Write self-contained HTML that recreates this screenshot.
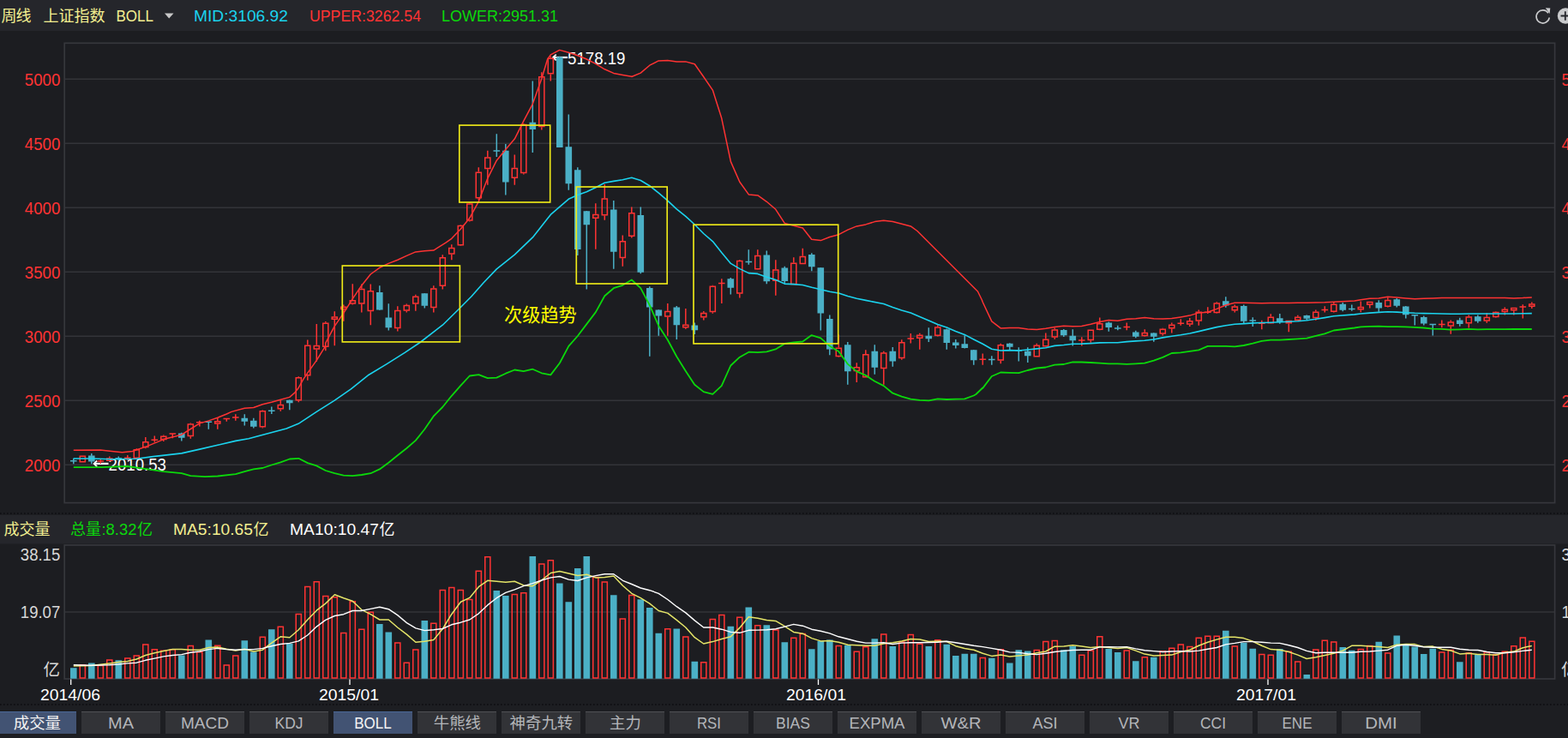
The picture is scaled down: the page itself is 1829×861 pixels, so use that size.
<!DOCTYPE html>
<html lang="zh"><head><meta charset="utf-8"><title>上证指数 周线 BOLL</title>
<style>
html,body{margin:0;padding:0;background:#1c1d21;}
body{width:1829px;height:861px;overflow:hidden;font-family:"Liberation Sans","Noto Sans CJK SC",sans-serif;}
svg{display:block;font-family:"Liberation Sans","Noto Sans CJK SC",sans-serif;}
</style></head><body>
<svg width="1829" height="861" viewBox="0 0 1829 861">
<rect x="0" y="0" width="1829" height="861" fill="#1c1d21"/>
<rect x="0" y="0" width="1829" height="36" fill="#25262b"/>
<rect x="0" y="601" width="1829" height="33.5" fill="#25262b"/>
<rect x="0" y="823" width="1829" height="38" fill="#1d1e22"/>
<line x1="0" y1="599" x2="1829" y2="599" stroke="#0d0d10" stroke-width="1.6" stroke-dasharray="1.6 2.4"/>
<line x1="0" y1="822" x2="1829" y2="822" stroke="#0d0d10" stroke-width="1.6" stroke-dasharray="1.6 2.4"/>
<line x1="75.2" y1="92.3" x2="1813.6" y2="92.3" stroke="#333439" stroke-width="1.5"/>
<line x1="75.2" y1="167.3" x2="1813.6" y2="167.3" stroke="#333439" stroke-width="1.5"/>
<line x1="75.2" y1="242.3" x2="1813.6" y2="242.3" stroke="#333439" stroke-width="1.5"/>
<line x1="75.2" y1="317.3" x2="1813.6" y2="317.3" stroke="#333439" stroke-width="1.5"/>
<line x1="75.2" y1="392.3" x2="1813.6" y2="392.3" stroke="#333439" stroke-width="1.5"/>
<line x1="75.2" y1="467.3" x2="1813.6" y2="467.3" stroke="#333439" stroke-width="1.5"/>
<line x1="75.2" y1="542.3" x2="1813.6" y2="542.3" stroke="#333439" stroke-width="1.5"/>
<rect x="75.2" y="50.3" width="1738.3999999999999" height="536.3000000000001" fill="none" stroke="#36373c" stroke-width="1.7"/>
<line x1="75.2" y1="714" x2="1813.6" y2="714" stroke="#333439" stroke-width="1.4"/>
<rect x="75.2" y="636" width="1738.3999999999999" height="156" fill="none" stroke="#36373c" stroke-width="1.7"/>
<text x="588.0" y="375.0" font-size="21.2" fill="#ffff00" font-family="'Liberation Sans','Noto Sans CJK SC',sans-serif" textLength="84.8">次级趋势</text>
<path d="M662.0 67H645.5" stroke="#fff" stroke-width="2.2" fill="none"/><path d="M648.7 63.6L645.1 67L648.7 70.4" stroke="#fff" stroke-width="1.8" fill="none"/>
<text x="662.0" y="75.0" font-size="19.5" fill="#ffffff" textLength="67.5" lengthAdjust="spacingAndGlyphs">5178.19</text>
<path d="M126.5 540.9H110.0" stroke="#fff" stroke-width="2.2" fill="none"/><path d="M113.2 537.5L109.6 540.9L113.2 544.3" stroke="#fff" stroke-width="1.8" fill="none"/>
<text x="126.5" y="548.8" font-size="19.5" fill="#ffffff" textLength="67.5" lengthAdjust="spacingAndGlyphs">2010.53</text>
<path d="M103.00 531.40H110.60V538.62H103.00ZM208.00 505.61H215.60V510.81H208.00ZM281.50 487.63H289.10V491.81H281.50ZM292.00 490.84H299.60V497.81H292.00ZM334.00 466.72H341.60V470.34H334.00ZM439.00 340.89H446.60V361.38H439.00ZM449.50 370.58H457.10V382.29H449.50ZM491.50 342.28H499.10V356.64H491.50ZM575.50 175.31H583.10V176.70H575.50ZM586.00 175.73H593.60V212.54H586.00ZM617.50 142.83H625.10V150.91H617.50ZM649.00 66.45H656.60V171.99H649.00ZM659.50 171.13H667.10V214.35H659.50ZM670.00 198.31H677.60V291.03H670.00ZM680.50 246.25H688.10V262.28H680.50ZM712.00 244.58H719.60V293.65H712.00ZM743.50 250.89H751.10V317.81H743.50ZM754.00 335.97H761.60V358.56H754.00ZM764.50 361.62H772.10V368.59H764.50ZM785.50 358.56H793.10V379.19H785.50ZM806.50 379.47H814.10V385.32H806.50ZM848.50 325.29H856.10V335.74H848.50ZM890.50 297.40H898.10V328.35H890.50ZM911.50 312.46H919.10V328.07H911.50ZM943.00 297.12H950.60V311.34H943.00ZM953.50 312.36H961.10V365.61H953.50ZM964.00 372.03H971.60V407.44H964.00ZM985.00 402.28H992.60V433.37H985.00ZM1016.50 409.67H1024.10V428.77H1016.50ZM1037.50 409.67H1045.10V421.38H1037.50ZM1079.50 391.83H1087.10V395.31H1079.50ZM1100.50 384.16H1108.10V399.91H1100.50ZM1111.00 399.49H1118.60V402.98H1111.00ZM1121.50 401.31H1129.10V406.05H1121.50ZM1132.00 408.31H1139.60V420.17H1132.00ZM1174.00 400.65H1181.60V404.83H1174.00ZM1195.00 409.71H1202.60V415.29H1195.00ZM1237.00 384.89H1244.60V391.31H1237.00ZM1247.50 391.86H1255.10V397.16H1247.50ZM1289.50 376.53H1297.10V382.10H1289.50ZM1321.00 387.40H1328.60V392.70H1321.00ZM1342.00 388.59H1349.60V392.78H1342.00ZM1426.00 351.37H1433.60V356.53H1426.00ZM1447.00 356.95H1454.60V374.65H1447.00ZM1489.00 371.31H1496.60V376.05H1489.00ZM1520.50 368.10H1528.10V371.86H1520.50ZM1562.50 354.83H1570.10V361.71H1562.50ZM1604.50 352.94H1612.10V359.49H1604.50ZM1625.50 349.32H1633.10V356.70H1625.50ZM1636.00 357.40H1643.60V367.16H1636.00ZM1657.00 369.95H1664.60V377.62H1657.00ZM1699.00 373.43H1706.60V378.04H1699.00ZM1720.00 369.25H1727.60V374.83H1720.00Z" fill="#4bb0c6"/>
<path d="M82.00 537.83H89.60M85.80 534.69V541.25M106.80 529.11V541.25M134.50 534.69H142.10M138.30 532.39V537.31M211.80 504.77V514.43M239.50 492.32H247.10M243.30 492.08V500.78M285.30 483.17V496.41M295.80 487.63V499.62M313.00 479.27H320.60M316.80 474.53V482.89M337.80 466.44V478.29M442.80 333.22V361.80M453.30 354.13V385.50M495.30 342.28V359.43M579.30 156.21V182.98M589.80 167.92V227.59M621.30 94.45V178.10M652.80 65.75V171.99M663.30 133.49V221.74M673.80 195.25V298.00M684.30 245.97V337.57M715.80 233.98V313.87M747.30 241.55V319.20M757.80 334.16V415.72M768.30 361.34V391.74M789.30 356.88V395.92M810.30 376.40V389.92M852.30 323.89V343.41M869.50 305.49H877.10M873.30 291.13V308.83M894.30 292.52V331.14M915.30 310.65V330.86M946.80 295.31V316.22M957.30 312.36V385.55M967.80 367.43V414.13M988.80 399.07V448.71M1020.30 402.28V436.72M1041.30 405.07V427.79M1083.30 382.34V399.07M1104.30 383.46V407.86M1114.80 396.01V406.46M1125.30 391.13V406.46M1135.80 408.04V425.74M1153.00 419.47H1160.60M1156.80 415.29V425.74M1177.80 400.23V408.31M1184.50 409.01H1192.10M1188.30 405.25V421.56M1198.80 405.25V422.95M1240.80 383.92V392.98M1251.30 384.33V403.43M1293.30 375.55V386.70M1300.00 382.94H1307.60M1303.80 379.73V385.31M1324.80 385.73V394.37M1345.80 388.31V398.77M1429.80 346.21V358.76M1450.80 355.55V377.16M1457.50 374.09H1465.10M1461.30 370.19V381.06M1492.80 366.01V377.86M1524.30 367.40V373.68M1566.30 352.97V363.20M1573.00 360.41H1580.60M1576.80 355.39V362.83M1608.30 350.15V363.68M1629.30 347.92V358.52M1639.80 357.12V371.62M1646.50 367.86H1654.10M1650.30 367.44V379.43M1660.80 368.56V379.43M1667.50 378.59H1675.10M1671.30 378.31V391.56M1702.80 370.65V380.82M1723.80 367.44V376.64" fill="none" stroke="#4bb0c6" stroke-width="1.5"/>
<path d="M93.25 532.15H99.35V538.86H93.25ZM124.75 535.01H130.85V537.31H124.75ZM156.25 524.85H162.35V534.22H156.25ZM166.75 515.79H172.85V521.54H166.75ZM187.75 509.14H193.85V512.47H187.75ZM219.25 495.01H225.35V508.49H219.25ZM250.75 491.72H256.85V494.02H250.75ZM303.25 479.74H309.35V497.75H303.25ZM324.25 472.49H330.35V476.84H324.25ZM345.25 440.70H351.35V466.80H345.25ZM355.75 403.34H361.85V437.81H355.75ZM366.25 403.40H372.35V407.06H366.25ZM376.75 377.19H382.85V404.27H376.75ZM387.25 370.06H393.35V372.36H387.25ZM397.75 358.21H403.85V360.51H397.75ZM408.25 350.70H414.35V354.08H408.25ZM418.75 337.45H424.85V354.08H418.75ZM429.25 339.82H435.35V362.44H429.25ZM460.75 362.55H466.85V382.38H460.75ZM471.25 356.56H477.35V362.03H471.25ZM481.75 346.24H487.85V354.08H481.75ZM502.75 337.04H508.85V358.54H502.75ZM513.25 300.79H519.35V333.17H513.25ZM523.75 289.52H529.85V295.97H523.75ZM534.25 263.45H540.35V285.65H534.25ZM544.75 237.94H550.85V256.93H544.75ZM555.25 201.16H561.35V230.75H555.25ZM565.75 184.01H571.85V196.45H565.75ZM597.25 196.56H603.35V207.32H597.25ZM607.75 145.39H613.85V201.47H607.75ZM628.75 89.79H634.85V147.54H628.75ZM639.25 68.18H645.35V85.78H639.25ZM691.75 250.48H697.85V254.14H691.75ZM702.25 231.94H708.35V250.80H702.25ZM723.25 281.85H729.35V300.57H723.25ZM733.75 248.85H739.85V275.23H733.75ZM775.75 363.49H781.85V368.96H775.75ZM796.75 379.36H802.85V381.66H796.75ZM817.75 365.58H823.85V369.66H817.75ZM828.25 334.21H834.35V363.38H828.25ZM859.75 304.43H865.85V341.96H859.75ZM880.75 298.43H886.85V313.66H880.75ZM901.75 314.88H907.85V327.32H901.75ZM922.75 307.21H928.85V331.51H922.75ZM933.25 299.55H939.35V307.53H933.25ZM975.25 406.24H981.35V415.47H975.25ZM996.25 428.82H1002.35V432.62H996.25ZM1006.75 413.77H1012.85V439.87H1006.75ZM1027.75 412.09H1033.85V429.42H1027.75ZM1048.75 399.82H1054.85V417.56H1048.75ZM1069.75 391.18H1075.85V394.14H1069.75ZM1090.75 382.12H1096.85V391.35H1090.75ZM1164.25 402.79H1170.35V420.11H1164.25ZM1206.25 403.21H1212.35V415.65H1206.25ZM1216.75 396.24H1222.85V403.66H1216.75ZM1227.25 385.08H1233.35V392.93H1227.25ZM1269.25 385.36H1275.35V396.41H1269.25ZM1279.75 377.70H1285.85V384.14H1279.75ZM1332.25 388.43H1338.35V391.53H1332.25ZM1353.25 384.18H1359.35V388.96H1353.25ZM1363.75 379.31H1369.85V382.68H1363.75ZM1384.75 374.84H1390.85V378.08H1384.75ZM1395.25 364.25H1401.35V373.90H1395.25ZM1416.25 353.93H1422.35V364.56H1416.25ZM1437.25 358.11H1443.35V361.77H1437.25ZM1479.25 370.24H1485.35V376.69H1479.25ZM1500.25 374.48H1506.35V376.78H1500.25ZM1510.75 370.24H1516.85V373.34H1510.75ZM1531.75 364.25H1537.85V370.56H1531.75ZM1552.75 355.33H1558.85V363.17H1552.75ZM1584.25 358.55H1590.35V360.85H1584.25ZM1594.75 352.58H1600.85V355.26H1594.75ZM1615.75 350.48H1621.85V357.35H1615.75ZM1689.25 376.00H1695.35V380.07H1689.25ZM1710.25 370.00H1716.35V376.87H1710.25ZM1731.25 370.42H1737.35V374.08H1731.25ZM1741.75 364.43H1747.85V369.48H1741.75ZM1752.25 361.22H1758.35V363.62H1752.25ZM1762.75 359.53H1768.85V361.83H1762.75ZM1783.75 355.07H1789.85V357.37H1783.75Z" fill="none" stroke="#ff3333" stroke-width="1.5"/>
<path d="M113.50 537.97H121.10M117.30 536.00V540.92M127.80 532.39V534.26M145.00 534.36H152.60M148.80 531.08V536.98M159.30 523.25V524.10M159.30 534.97V535.33M169.80 509.96V515.04M169.80 522.29V523.25M176.50 513.22H184.10M180.30 508.39V515.64M190.80 507.55V508.39M190.80 513.22V515.04M197.50 505.98H205.10M201.30 505.61V511.17M222.30 493.53V494.26M222.30 509.24V511.65M229.00 492.69H236.60M232.80 490.63V497.52M253.80 487.85V490.97M253.80 494.77V500.78M260.50 488.46H268.10M264.30 488.22V491.84M271.00 487.07H278.60M274.80 483.17V490.84M306.30 478.43V478.99M306.30 498.50V499.62M327.30 466.44V471.74M327.30 477.59V479.68M348.30 439.25V439.95M348.30 467.55V469.23M358.80 396.45V402.59M358.80 438.56V443.85M369.30 378.11V402.65M369.30 407.81V421.75M379.80 375.04V376.44M379.80 405.02V409.20M390.30 363.19V369.31M390.30 373.11V403.21M400.80 355.53V357.46M400.80 361.26V374.77M411.30 331.13V349.95M411.30 354.83V355.53M421.80 331.55V336.70M421.80 354.83V364.59M432.30 331.55V339.07M432.30 363.19V379.23M463.80 357.20V361.80M463.80 383.13V386.48M474.30 354.41V355.81M474.30 362.78V364.59M484.80 343.68V345.49M484.80 354.83V362.78M505.80 333.22V336.29M505.80 359.29V364.59M516.30 297.25V300.04M516.30 333.92V337.40M526.80 285.29V288.77M526.80 296.72V303.13M537.30 262.28V262.70M537.30 286.40V286.96M547.80 236.21V237.19M547.80 257.68V258.52M558.30 195.25V200.41M558.30 231.50V233.17M568.80 175.73V183.26M568.80 197.20V215.74M600.30 180.47V195.81M600.30 208.07V215.74M610.80 143.94V144.64M610.80 202.22V203.61M631.80 84.16V89.04M631.80 148.29V151.50M642.30 65.61V67.43M642.30 86.53V94.61M694.80 237.19V249.73M694.80 254.89V290.86M705.30 214.88V231.19M705.30 251.55V256.70M726.30 274.41V281.10M726.30 301.32V310.66M736.80 241.55V248.10M736.80 275.98V277.38M778.80 354.09V362.74M778.80 369.71V391.74M799.80 359.95V378.61M799.80 382.41V383.93M820.80 363.02V364.83M820.80 370.41V373.61M831.30 332.76V333.46M831.30 364.13V365.81M838.00 330.39H845.60M841.80 325.37V354.09M862.80 302.98V303.68M862.80 342.71V347.59M883.80 291.13V297.68M883.80 314.41V314.83M904.80 303.26V314.13M904.80 328.07V344.80M925.80 300.19V306.46M936.30 289.73V298.80M978.30 390.43V405.49M978.30 416.22V416.64M999.30 423.19V428.07M999.30 433.37V445.92M1009.80 408.28V413.02M1030.80 409.67V411.34M1030.80 430.17V448.71M1051.80 396.29V399.07M1051.80 418.31V419.71M1058.50 394.89H1066.10M1062.30 389.04V400.47M1072.80 388.76V390.43M1072.80 394.89V407.86M1093.80 379.28V381.37M1093.80 392.10V392.52M1142.50 419.19H1150.10M1146.30 412.50V425.74M1167.30 400.65V402.04M1167.30 420.86V424.35M1209.30 400.65V402.46M1219.80 388.52V395.49M1219.80 404.41V404.83M1230.30 382.52V384.33M1230.30 393.68V395.77M1258.00 396.88H1265.60M1261.80 393.26V403.43M1272.30 397.16V399.67M1282.80 370.39V376.95M1282.80 384.89V385.31M1310.50 381.55H1318.10M1314.30 376.53V385.31M1335.30 384.33V387.68M1335.30 392.28V392.70M1356.30 382.74V383.43M1356.30 389.71V391.38M1366.80 376.46V378.56M1366.80 383.43V388.59M1373.50 377.16H1381.10M1377.30 372.28V379.67M1387.80 370.89V374.09M1387.80 378.83V381.06M1398.30 361.55V363.50M1398.30 374.65V379.67M1405.00 364.33H1412.60M1408.80 358.34V366.01M1419.30 352.34V353.18M1419.30 365.31V365.73M1440.30 355.55V357.36M1440.30 362.52V364.61M1468.00 377.16H1475.60M1471.80 373.68V384.13M1482.30 366.29V369.49M1482.30 377.44V377.86M1503.30 377.53V387.20M1513.80 367.68V369.49M1534.80 361.55V363.50M1534.80 371.31V373.68M1541.50 361.55H1549.10M1545.30 357.36V364.61M1555.80 352.76V354.58M1555.80 363.92V364.61M1587.30 351.55V357.80M1587.30 361.60V364.37M1597.80 356.01V359.49M1618.80 347.36V349.73M1618.80 358.10V358.52M1678.00 378.59H1685.60M1681.80 373.43V382.22M1692.30 373.43V375.25M1692.30 380.82V389.75M1713.30 367.44V369.25M1713.30 377.62V382.50M1734.30 365.07V369.67M1734.30 374.83V376.64M1744.80 363.26V363.68M1744.80 370.23V370.65M1755.30 358.52V360.47M1755.30 364.37V367.44M1765.80 362.58V367.44M1772.50 358.10H1780.10M1776.30 355.31V371.62M1786.80 352.52V354.32M1786.80 358.12V359.91" fill="none" stroke="#ff3333" stroke-width="1.5"/>
<path d="M85.8 525.2L117.1 524.9L130.4 526.5L142.5 527.7L154.6 526.5L159.4 524.7L170.3 521.1L190.8 512.6L211.8 507.2L222.3 500.5L232.9 493.9L243.4 490.9L253.9 487.2L264.4 483.0L270.0 480.4L285.3 476.2L295.8 475.5L306.2 471.7L316.7 469.2L327.3 466.2L337.8 463.4L343.9 458.1L348.2 452.5L353.7 442.7L358.8 435.1L369.3 420.4L379.7 403.7L379.8 400.1L390.2 380.6L400.7 365.3L411.3 348.6L421.7 333.2L432.2 320.0L442.8 312.3L453.2 307.4L463.8 303.2L474.3 298.4L484.8 293.9L495.2 292.8L505.8 292.1L520.0 283.2L526.8 278.3L537.3 267.2L547.7 254.6L558.3 235.1L568.8 208.1L579.3 187.2L589.7 174.6L600.3 162.1L610.8 141.2L621.4 121.1L631.8 91.8L638.5 69.5L642.3 63.9L652.7 58.4L663.2 61.2L673.8 64.8L684.2 69.0L694.8 74.3L705.3 80.8L715.7 85.4L726.3 87.4L736.7 89.3L736.8 89.5L747.3 85.1L757.8 76.2L768.2 70.9L778.8 70.6L789.3 72.0L799.7 71.9L810.3 74.8L820.8 89.7L831.3 105.1L841.7 137.8L852.4 188.6L862.8 212.3L873.3 226.9L883.9 227.9L894.3 235.3L904.8 244.3L915.2 260.4L925.8 263.2L936.3 266.0L946.7 279.2L957.3 280.6L967.8 276.5L978.3 273.7L988.9 268.1L999.3 263.9L1009.8 261.9L1020.4 258.6L1030.8 257.2L1041.3 258.4L1051.9 261.2L1062.3 263.9L1070.0 269.5L1140.5 340.0L1145.4 350.0L1146.3 352.5L1156.8 374.9L1167.2 382.9L1177.8 382.5L1188.3 382.5L1198.7 383.9L1209.3 384.6L1219.8 383.2L1230.2 381.5L1240.8 380.2L1251.3 380.7L1261.7 380.4L1272.2 378.3L1282.8 375.6L1293.3 373.5L1303.7 374.2L1314.3 372.3L1324.8 371.8L1335.2 370.4L1345.9 371.7L1356.3 371.9L1366.8 371.6L1377.2 369.9L1387.8 368.1L1398.3 364.9L1408.7 364.3L1419.3 360.4L1429.8 356.0L1440.2 353.2L1450.8 353.2L1461.3 353.5L1471.7 353.7L1482.2 353.5L1492.8 353.5L1503.3 353.5L1513.7 353.2L1524.3 353.2L1534.8 353.0L1545.2 352.8L1555.8 352.3L1580.0 351.1L1587.2 349.7L1597.8 348.3L1608.3 347.9L1618.8 346.2L1629.4 346.9L1639.8 347.9L1650.3 348.8L1660.9 348.3L1671.3 347.9L1681.8 347.6L1692.2 347.6L1702.8 347.6L1713.3 347.6L1723.7 347.6L1734.3 347.6L1744.8 347.6L1755.2 347.6L1765.8 347.9L1776.3 347.6L1786.8 346.9" fill="none" stroke="#ff3333" stroke-width="1.5" stroke-linejoin="round"/>
<path d="M85.8 535.0L106.8 535.0L130.4 535.8L159.4 535.3L178.7 532.6L211.8 528.9L232.9 524.1L253.9 519.3L274.9 514.4L290.0 511.7L334.1 500.0L348.1 494.3L369.3 480.4L390.3 467.1L409.4 453.9L430.3 437.2L451.2 424.6L472.2 411.4L490.0 399.5L516.3 379.2L536.1 359.7L550.0 345.8L563.9 330.0L579.3 313.9L600.3 297.1L621.4 276.9L642.3 250.4L652.7 241.4L663.2 232.3L673.8 227.4L684.3 223.7L694.9 218.8L705.3 213.2L715.8 211.4L726.2 209.8L736.8 207.2L747.3 210.5L757.7 216.7L768.3 225.1L778.8 234.2L789.2 243.9L799.8 252.3L810.3 262.0L820.7 272.5L831.3 281.6L841.8 294.8L852.4 307.4L862.9 313.6L873.3 318.6L883.7 319.4L894.3 323.2L904.8 326.4L915.2 331.1L925.7 331.6L936.3 332.5L946.8 335.3L957.4 337.8L967.8 340.3L978.3 342.0L988.9 345.5L999.3 348.3L1009.8 350.4L1030.8 354.5L1041.3 358.4L1051.7 361.9L1062.3 365.1L1072.8 369.5L1083.4 374.0L1093.8 378.6L1104.3 382.1L1114.7 386.5L1125.2 390.4L1135.8 396.0L1146.3 401.3L1156.8 407.2L1167.2 409.0L1177.8 408.6L1188.3 409.0L1198.7 408.0L1209.3 406.9L1219.8 405.8L1230.2 403.4L1240.8 402.5L1251.3 401.3L1261.7 401.1L1272.2 400.6L1282.8 399.9L1293.3 399.7L1303.7 399.7L1314.3 398.6L1324.8 397.9L1335.2 397.2L1345.9 396.0L1356.3 393.9L1366.8 392.2L1377.2 390.8L1387.8 389.0L1398.3 386.6L1408.7 384.1L1419.3 381.6L1429.8 379.7L1440.2 378.3L1450.8 377.6L1461.3 376.9L1471.7 376.5L1482.2 376.2L1492.8 375.8L1503.3 375.3L1513.7 374.7L1524.3 373.7L1534.8 372.3L1545.2 370.6L1555.8 368.8L1580.0 366.9L1587.2 366.0L1597.8 365.1L1608.3 364.4L1618.8 363.7L1629.4 364.1L1639.8 364.7L1650.3 365.3L1660.9 365.6L1671.3 365.8L1681.8 366.0L1692.2 366.2L1702.8 366.2L1713.3 366.0L1723.7 366.0L1734.3 366.0L1744.8 366.0L1755.2 366.0L1765.8 366.0L1776.3 365.8L1786.8 365.6" fill="none" stroke="#1bd3ee" stroke-width="1.6" stroke-linejoin="round"/>
<path d="M85.8 545.2L118.3 545.2L148.5 544.0L170.3 547.1L190.8 550.1L211.8 552.2L222.3 555.1L239.1 556.1L253.9 555.5L274.9 553.1L285.3 550.1L290.0 548.9L295.8 547.4L306.3 546.0L316.8 542.5L327.3 539.3L337.9 535.5L348.3 534.8L358.8 540.1L369.2 543.4L379.8 549.0L390.3 552.2L400.7 554.6L411.3 555.2L421.8 554.0L432.4 552.2L442.8 547.4L453.3 539.7L463.8 531.3L474.3 523.0L484.8 513.9L495.3 500.8L505.8 485.5L516.2 475.0L526.8 461.8L537.3 449.9L547.8 438.5L558.4 437.1L568.8 441.2L579.3 440.6L589.9 435.7L600.3 431.5L610.8 433.2L621.4 430.7L631.8 435.3L642.3 437.4L652.9 423.5L663.3 403.9L673.8 392.0L684.3 378.1L694.9 364.1L705.3 345.3L715.8 336.2L726.2 332.8L736.8 326.5L747.3 336.2L757.7 355.8L768.3 380.2L778.8 396.5L789.3 416.0L799.7 432.7L810.2 448.8L820.8 457.1L831.3 459.9L841.7 450.2L852.3 426.5L862.8 416.7L873.4 410.7L883.8 411.1L894.3 410.4L904.7 407.4L915.2 401.0L925.8 399.3L936.3 398.5L946.7 391.1L957.2 394.3L967.8 403.7L978.2 409.9L988.7 424.6L999.3 433.4L1009.7 437.8L1020.2 444.8L1030.8 450.1L1041.3 458.7L1051.7 462.6L1062.3 465.7L1072.8 466.8L1083.4 467.4L1093.8 465.4L1104.3 466.0L1114.7 465.7L1125.2 465.4L1135.8 461.5L1138.4 460.0L1146.2 452.5L1146.3 452.9L1156.8 439.0L1167.2 434.5L1177.8 434.8L1188.3 435.1L1198.7 432.0L1209.3 429.5L1219.8 428.5L1230.2 425.7L1240.8 425.0L1251.3 422.3L1261.7 422.5L1272.2 423.0L1282.8 423.7L1293.3 424.3L1303.7 424.3L1314.3 424.8L1324.8 424.3L1335.2 423.7L1345.9 420.7L1356.3 416.9L1366.8 412.0L1377.2 411.3L1387.8 409.9L1398.3 408.3L1408.7 403.9L1419.3 403.9L1429.8 403.9L1440.2 404.3L1450.8 403.0L1461.3 400.6L1471.7 397.8L1482.2 396.7L1492.8 396.7L1503.3 396.0L1513.7 395.3L1524.3 394.6L1534.8 391.8L1545.2 389.3L1555.8 385.5L1580.0 382.5L1587.2 381.4L1597.8 380.8L1608.3 380.7L1618.8 381.1L1629.4 381.1L1639.8 381.4L1650.3 381.8L1660.9 382.5L1671.3 383.6L1681.8 383.9L1692.2 384.6L1702.8 384.3L1713.3 383.9L1723.7 384.3L1734.3 384.2L1744.8 384.2L1755.2 384.2L1765.8 384.0L1776.3 384.0L1786.8 384.0" fill="none" stroke="#0bd80b" stroke-width="1.8" stroke-linejoin="round"/>
<rect x="399.3" y="310.0" width="137.1" height="88.9" fill="none" stroke="#efea18" stroke-width="1.65"/>
<rect x="535.8" y="146.1" width="105.9" height="89.9" fill="none" stroke="#efea18" stroke-width="1.65"/>
<rect x="672.3" y="218.0" width="105.9" height="113.0" fill="none" stroke="#efea18" stroke-width="1.65"/>
<rect x="809.0" y="262.2" width="168.7" height="138.7" fill="none" stroke="#efea18" stroke-width="1.65"/>
<path d="M82.00 791.80V779.29H89.60V791.80ZM103.00 791.80V773.52H110.60V791.80ZM134.50 791.80V770.27H142.10V791.80ZM208.00 791.80V764.49H215.60V791.80ZM239.50 791.80V746.45H247.10V791.80ZM281.50 791.80V747.35H289.10V791.80ZM292.00 791.80V760.53H299.60V791.80ZM313.00 791.80V734.18H320.60V791.80ZM334.00 791.80V750.96H341.60V791.80ZM439.00 791.80V728.05H446.60V791.80ZM449.50 791.80V737.43H457.10V791.80ZM491.50 791.80V723.90H499.10V791.80ZM575.50 791.80V689.08H583.10V791.80ZM586.00 791.80V695.03H593.60V791.80ZM617.50 791.80V649.02H625.10V791.80ZM649.00 791.80V680.60H656.60V791.80ZM659.50 791.80V702.25H667.10V791.80ZM670.00 791.80V663.09H677.60V791.80ZM680.50 791.80V649.02H688.10V791.80ZM712.00 791.80V694.13H719.60V791.80ZM743.50 791.80V699.18H751.10V791.80ZM754.00 791.80V708.92H761.60V791.80ZM764.50 791.80V738.87H772.10V791.80ZM785.50 791.80V733.46H793.10V791.80ZM806.50 791.80V771.71H814.10V791.80ZM848.50 791.80V730.75H856.10V791.80ZM869.50 791.80V708.56H877.10V791.80ZM890.50 791.80V729.31H898.10V791.80ZM911.50 791.80V749.16H919.10V791.80ZM943.00 791.80V757.28H950.60V791.80ZM953.50 791.80V747.90H961.10V791.80ZM964.00 791.80V746.45H971.60V791.80ZM985.00 791.80V752.77H992.60V791.80ZM1016.50 791.80V745.19H1024.10V791.80ZM1037.50 791.80V754.03H1045.10V791.80ZM1079.50 791.80V754.03H1087.10V791.80ZM1100.50 791.80V751.86H1108.10V791.80ZM1111.00 791.80V765.04H1118.60V791.80ZM1121.50 791.80V762.69H1129.10V791.80ZM1132.00 791.80V762.69H1139.60V791.80ZM1153.00 791.80V767.74H1160.60V791.80ZM1174.00 791.80V773.52H1181.60V791.80ZM1184.50 791.80V758.18H1192.10V791.80ZM1195.00 791.80V759.62H1202.60V791.80ZM1237.00 791.80V758.18H1244.60V791.80ZM1247.50 791.80V754.03H1255.10V791.80ZM1289.50 791.80V756.92H1297.10V791.80ZM1300.00 791.80V760.89H1307.60V791.80ZM1321.00 791.80V771.17H1328.60V791.80ZM1342.00 791.80V766.84H1349.60V791.80ZM1426.00 791.80V735.63H1433.60V791.80ZM1447.00 791.80V749.70H1454.60V791.80ZM1457.50 791.80V756.74H1465.10V791.80ZM1489.00 791.80V756.92H1496.60V791.80ZM1520.50 791.80V787.05H1528.10V791.80ZM1562.50 791.80V755.11H1570.10V791.80ZM1573.00 791.80V758.72H1580.60V791.80ZM1604.50 791.80V748.80H1612.10V791.80ZM1625.50 791.80V741.40H1633.10V791.80ZM1636.00 791.80V751.86H1643.60V791.80ZM1646.50 791.80V754.62H1654.10V791.80ZM1657.00 791.80V763.11H1664.60V791.80ZM1667.50 791.80V756.82H1675.10V791.80ZM1699.00 791.80V772.27H1706.60V791.80ZM1720.00 791.80V764.00H1727.60V791.80Z" fill="#4bb0c6"/>
<path d="M93.25 791.10V775.71H99.35V791.10ZM114.25 791.10V776.43H120.35V791.10ZM124.75 791.10V770.12H130.85V791.10ZM145.75 791.10V767.95H151.85V791.10ZM156.25 791.10V764.88H162.35V791.10ZM166.75 791.10V752.07H172.85V791.10ZM177.25 791.10V757.67H183.35V791.10ZM187.75 791.10V759.29H193.85V791.10ZM198.25 791.10V757.67H204.35V791.10ZM219.25 791.10V753.52H225.35V791.10ZM229.75 791.10V760.73H235.85V791.10ZM250.75 791.10V753.16H256.85V791.10ZM261.25 791.10V776.07H267.35V791.10ZM271.75 791.10V764.88H277.85V791.10ZM303.25 791.10V743.23H309.35V791.10ZM324.25 791.10V731.32H330.35V791.10ZM345.25 791.10V716.53H351.35V791.10ZM355.75 791.10V684.41H361.85V791.10ZM366.25 791.10V678.64H372.35V791.10ZM376.75 791.10V695.42H382.85V791.10ZM387.25 791.10V696.68H393.35V791.10ZM397.75 791.10V738.54H403.85V791.10ZM408.25 791.10V701.73H414.35V791.10ZM418.75 791.10V734.21H424.85V791.10ZM429.25 791.10V714.36H435.35V791.10ZM460.75 791.10V749.91H466.85V791.10ZM471.25 791.10V773.36H477.35V791.10ZM481.75 791.10V758.03H487.85V791.10ZM502.75 791.10V727.36H508.85V791.10ZM513.25 791.10V688.56H519.35V791.10ZM523.75 791.10V685.50H529.85V791.10ZM534.25 791.10V688.56H540.35V791.10ZM544.75 791.10V699.39H550.85V791.10ZM555.25 791.10V666.37H561.35V791.10ZM565.75 791.10V649.77H571.85V791.10ZM597.25 791.10V693.43H603.35V791.10ZM607.75 791.10V691.63H613.85V791.10ZM628.75 791.10V657.89H634.85V791.10ZM639.25 791.10V653.74H645.35V791.10ZM691.75 791.10V673.59H697.85V791.10ZM702.25 791.10V679.00H708.35V791.10ZM723.25 791.10V721.94H729.35V791.10ZM733.75 791.10V694.52H739.85V791.10ZM775.75 791.10V733.67H781.85V791.10ZM796.75 791.10V743.05H802.85V791.10ZM817.75 791.10V772.82H823.85V791.10ZM828.25 791.10V722.48H834.35V791.10ZM838.75 791.10V717.43H844.85V791.10ZM859.75 791.10V720.14H865.85V791.10ZM880.75 791.10V729.70H886.85V791.10ZM901.75 791.10V734.93H907.85V791.10ZM922.75 791.10V744.13H928.85V791.10ZM933.25 791.10V739.44H939.35V791.10ZM975.25 791.10V753.52H981.35V791.10ZM996.25 791.10V760.19H1002.35V791.10ZM1006.75 791.10V754.78H1012.85V791.10ZM1027.75 791.10V739.98H1033.85V791.10ZM1048.75 791.10V749.01H1054.85V791.10ZM1059.25 791.10V740.53H1065.35V791.10ZM1069.75 791.10V751.17H1075.85V791.10ZM1090.75 791.10V746.66H1096.85V791.10ZM1143.25 791.10V767.41H1149.35V791.10ZM1164.25 791.10V757.67H1170.35V791.10ZM1206.25 791.10V758.57H1212.35V791.10ZM1216.75 791.10V748.47H1222.85V791.10ZM1227.25 791.10V747.56H1233.35V791.10ZM1258.75 791.10V764.34H1264.85V791.10ZM1269.25 791.10V758.93H1275.35V791.10ZM1279.75 791.10V742.69H1285.85V791.10ZM1311.25 791.10V758.93H1317.35V791.10ZM1332.25 791.10V766.69H1338.35V791.10ZM1353.25 791.10V759.83H1359.35V791.10ZM1363.75 791.10V756.22H1369.85V791.10ZM1374.25 791.10V752.07H1380.35V791.10ZM1384.75 791.10V754.42H1390.85V791.10ZM1395.25 791.10V744.13H1401.35V791.10ZM1405.75 791.10V742.33H1411.85V791.10ZM1416.25 791.10V742.33H1422.35V791.10ZM1437.25 791.10V754.06H1443.35V791.10ZM1468.75 791.10V763.44H1474.85V791.10ZM1479.25 791.10V764.34H1485.35V791.10ZM1500.25 791.10V760.19H1506.35V791.10ZM1510.75 791.10V772.10H1516.85V791.10ZM1531.75 791.10V758.03H1537.85V791.10ZM1542.25 791.10V747.20H1548.35V791.10ZM1552.75 791.10V749.01H1558.85V791.10ZM1584.25 791.10V757.49H1590.35V791.10ZM1594.75 791.10V753.52H1600.85V791.10ZM1615.75 791.10V762.00H1621.85V791.10ZM1678.75 791.10V760.88H1684.85V791.10ZM1689.25 791.10V758.46H1695.35V791.10ZM1710.25 791.10V761.99H1716.35V791.10ZM1731.25 791.10V760.88H1737.35V791.10ZM1741.75 791.10V763.64H1747.85V791.10ZM1752.25 791.10V760.33H1758.35V791.10ZM1762.75 791.10V753.71H1768.85V791.10ZM1773.25 791.10V744.11H1779.35V791.10ZM1783.75 791.10V748.20H1789.85V791.10Z" fill="none" stroke="#ff3333" stroke-width="1.5"/>
<path d="M85.8 777.1L106.8 776.6L127.7 773.9L138.3 772.6L148.8 771.4L159.3 769.0L169.7 764.5L180.4 761.8L190.8 759.4L201.3 757.6L211.8 757.6L222.2 758.2L232.9 758.2L243.3 755.5L253.8 754.9L264.3 757.3L274.7 759.1L285.4 757.3L295.8 760.0L306.3 758.2L316.8 750.1L327.2 742.8L337.9 743.7L348.3 734.7L358.8 723.0L369.3 712.2L379.7 704.1L390.4 693.8L400.8 697.7L411.2 701.3L421.7 711.3L432.3 716.7L442.8 723.0L453.3 723.0L463.7 732.0L474.4 740.1L484.9 749.2L495.3 748.3L505.8 746.5L516.2 733.8L526.7 716.7L537.4 702.2L547.8 697.4L558.3 684.7L568.8 677.3L579.2 678.3L589.9 679.3L600.3 678.3L610.8 682.9L621.3 683.7L631.7 677.0L642.4 668.5L652.8 666.5L663.3 668.9L673.8 671.6L684.4 670.3L694.9 673.9L705.3 673.4L715.8 672.1L726.4 683.3L736.8 692.3L747.3 697.7L757.8 704.1L768.2 712.5L778.9 715.4L789.3 723.4L799.8 732.0L810.3 743.7L820.7 751.0L831.4 748.6L841.8 745.5L852.3 742.8L862.8 732.4L873.2 719.7L883.9 721.2L894.3 723.5L904.8 724.4L915.3 730.6L925.7 737.4L936.4 739.2L946.8 744.6L957.3 747.9L967.8 747.4L978.2 749.2L988.9 752.2L999.4 752.8L1009.8 753.3L1020.3 753.3L1030.7 751.0L1041.3 749.7L1051.8 747.9L1062.2 745.5L1072.9 746.1L1083.4 748.6L1093.8 747.9L1104.3 748.6L1114.7 753.7L1125.2 756.4L1135.9 758.2L1146.3 762.3L1156.8 765.4L1167.3 764.1L1177.7 765.9L1188.4 764.9L1198.8 764.1L1209.3 761.8L1219.8 760.0L1230.2 754.2L1240.9 754.0L1251.3 752.8L1261.8 754.0L1272.3 755.5L1282.7 754.6L1293.4 755.5L1303.8 756.4L1314.3 755.5L1324.8 759.1L1335.2 763.1L1345.9 764.9L1356.3 764.5L1366.7 764.1L1377.4 760.5L1387.8 758.2L1398.3 753.3L1408.8 749.2L1419.2 746.1L1429.9 743.2L1440.3 743.2L1450.8 744.6L1461.3 748.3L1471.7 753.3L1482.4 757.6L1492.8 758.2L1503.3 760.5L1513.8 764.1L1524.2 768.5L1534.9 766.7L1545.4 764.5L1555.8 762.3L1566.3 759.1L1576.7 753.3L1587.4 753.3L1597.9 754.0L1608.3 754.6L1618.8 755.5L1629.2 752.2L1639.9 751.5L1650.3 751.6L1660.7 754.6L1671.3 754.1L1681.8 757.4L1692.3 759.0L1702.8 762.9L1713.3 762.3L1723.9 763.4L1734.3 763.4L1744.8 764.2L1755.3 761.2L1765.8 760.1L1776.3 755.7L1786.8 753.5" fill="none" stroke="#e5e568" stroke-width="1.5" stroke-linejoin="round"/>
<path d="M85.8 775.7L106.8 776.2L127.7 775.7L138.3 775.0L148.8 773.9L159.3 773.2L169.7 770.3L180.4 768.1L190.8 765.9L201.3 764.5L211.8 763.6L222.2 761.2L232.9 760.0L243.3 757.6L253.8 756.4L264.3 757.6L274.7 758.2L285.4 757.6L295.8 757.6L306.3 756.4L316.8 753.7L327.2 751.5L337.9 750.4L348.3 747.9L358.8 741.0L369.3 731.1L379.7 723.4L390.4 718.5L400.8 716.7L411.2 712.5L421.7 712.5L432.3 710.4L442.8 708.2L453.3 710.7L463.7 717.6L474.4 726.6L484.9 732.9L495.3 735.6L505.8 734.7L516.2 733.5L526.7 728.8L537.4 726.2L547.8 723.0L558.3 715.8L568.8 705.9L579.2 697.7L589.9 691.4L600.3 687.8L610.8 683.7L621.3 680.6L631.7 677.0L642.4 673.9L652.8 672.5L663.3 676.1L673.8 677.5L684.4 673.9L694.9 671.6L705.3 669.8L715.8 669.8L726.4 677.3L736.8 681.5L747.3 686.0L757.8 688.7L768.2 692.3L778.9 699.5L789.3 707.7L799.8 714.9L810.3 723.9L820.7 732.0L831.4 732.0L841.8 734.2L852.3 737.4L862.8 738.3L873.2 735.3L883.9 735.1L894.3 734.7L904.8 733.8L915.3 731.1L925.7 728.4L936.4 730.2L946.8 734.2L957.3 736.2L967.8 738.9L978.2 742.8L988.9 745.5L999.4 748.3L1009.8 750.1L1020.3 750.1L1030.7 749.7L1041.3 751.5L1051.8 750.1L1062.2 749.7L1072.9 749.7L1083.4 749.5L1093.8 749.2L1104.3 748.3L1114.7 749.7L1125.2 751.5L1135.9 753.3L1146.3 754.6L1156.8 756.4L1167.3 758.2L1177.7 760.9L1188.4 761.4L1198.8 762.7L1209.3 763.6L1219.8 762.3L1230.2 760.5L1240.9 759.4L1251.3 758.5L1261.8 758.2L1272.3 758.2L1282.7 754.9L1293.4 754.8L1303.8 754.9L1314.3 754.6L1324.8 756.9L1335.2 758.7L1345.9 759.6L1356.3 760.5L1366.7 760.0L1377.4 759.6L1387.8 760.0L1398.3 759.1L1408.8 757.3L1419.2 755.5L1429.9 751.9L1440.3 750.4L1450.8 748.6L1461.3 748.6L1471.7 749.2L1482.4 750.1L1492.8 750.4L1503.3 752.8L1513.8 755.5L1524.2 759.4L1534.9 761.8L1545.4 761.2L1555.8 761.2L1566.3 761.2L1576.7 761.2L1587.4 760.3L1597.9 760.0L1608.3 759.1L1618.8 758.2L1629.2 753.3L1639.9 752.2L1650.3 753.3L1660.7 754.8L1671.3 755.2L1681.8 755.2L1692.3 755.2L1702.8 757.2L1713.3 758.3L1723.9 758.5L1734.3 760.5L1744.8 761.8L1755.3 761.8L1765.8 760.7L1776.3 759.4L1786.8 758.3" fill="none" stroke="#ffffff" stroke-width="1.4" stroke-linejoin="round"/>
<line x1="82.7" y1="792.5" x2="82.7" y2="799" stroke="#fff" stroke-width="1.3"/>
<text x="82.0" y="817.0" font-size="19" fill="#ffffff" text-anchor="middle" textLength="70.0" lengthAdjust="spacingAndGlyphs">2014/06</text>
<line x1="408" y1="792.5" x2="408" y2="799" stroke="#fff" stroke-width="1.3"/>
<text x="407.0" y="817.0" font-size="19" fill="#ffffff" text-anchor="middle" textLength="70.0" lengthAdjust="spacingAndGlyphs">2015/01</text>
<line x1="954.5" y1="792.5" x2="954.5" y2="799" stroke="#fff" stroke-width="1.3"/>
<text x="952.0" y="817.0" font-size="19" fill="#ffffff" text-anchor="middle" textLength="70.0" lengthAdjust="spacingAndGlyphs">2016/01</text>
<line x1="1479" y1="792.5" x2="1479" y2="799" stroke="#fff" stroke-width="1.3"/>
<text x="1477.0" y="817.0" font-size="19" fill="#ffffff" text-anchor="middle" textLength="70.0" lengthAdjust="spacingAndGlyphs">2017/01</text>
<text x="70.3" y="99.5" font-size="19.5" fill="#ff3333" text-anchor="end" textLength="41.5" lengthAdjust="spacingAndGlyphs">5000</text>
<text x="1821.5" y="99.5" font-size="19.5" fill="#ff3333" textLength="41.5" lengthAdjust="spacingAndGlyphs">5000</text>
<text x="70.3" y="174.5" font-size="19.5" fill="#ff3333" text-anchor="end" textLength="41.5" lengthAdjust="spacingAndGlyphs">4500</text>
<text x="1821.5" y="174.5" font-size="19.5" fill="#ff3333" textLength="41.5" lengthAdjust="spacingAndGlyphs">4500</text>
<text x="70.3" y="249.5" font-size="19.5" fill="#ff3333" text-anchor="end" textLength="41.5" lengthAdjust="spacingAndGlyphs">4000</text>
<text x="1821.5" y="249.5" font-size="19.5" fill="#ff3333" textLength="41.5" lengthAdjust="spacingAndGlyphs">4000</text>
<text x="70.3" y="324.5" font-size="19.5" fill="#ff3333" text-anchor="end" textLength="41.5" lengthAdjust="spacingAndGlyphs">3500</text>
<text x="1821.5" y="324.5" font-size="19.5" fill="#ff3333" textLength="41.5" lengthAdjust="spacingAndGlyphs">3500</text>
<text x="70.3" y="399.5" font-size="19.5" fill="#ff3333" text-anchor="end" textLength="41.5" lengthAdjust="spacingAndGlyphs">3000</text>
<text x="1821.5" y="399.5" font-size="19.5" fill="#ff3333" textLength="41.5" lengthAdjust="spacingAndGlyphs">3000</text>
<text x="70.3" y="474.5" font-size="19.5" fill="#ff3333" text-anchor="end" textLength="41.5" lengthAdjust="spacingAndGlyphs">2500</text>
<text x="1821.5" y="474.5" font-size="19.5" fill="#ff3333" textLength="41.5" lengthAdjust="spacingAndGlyphs">2500</text>
<text x="70.3" y="549.5" font-size="19.5" fill="#ff3333" text-anchor="end" textLength="41.5" lengthAdjust="spacingAndGlyphs">2000</text>
<text x="1821.5" y="549.5" font-size="19.5" fill="#ff3333" textLength="41.5" lengthAdjust="spacingAndGlyphs">2000</text>
<text x="70.3" y="654.0" font-size="19.5" fill="#d8d8d8" text-anchor="end" textLength="46.5" lengthAdjust="spacingAndGlyphs">38.15</text>
<text x="70.3" y="720.5" font-size="19.5" fill="#d8d8d8" text-anchor="end" textLength="46.5" lengthAdjust="spacingAndGlyphs">19.07</text>
<text x="1821.5" y="654.0" font-size="19.5" fill="#d8d8d8" textLength="46.5" lengthAdjust="spacingAndGlyphs">38.15</text>
<text x="1821.5" y="720.5" font-size="19.5" fill="#d8d8d8" textLength="46.5" lengthAdjust="spacingAndGlyphs">19.07</text>
<text x="50.5" y="787.5" font-size="19.5" fill="#d8d8d8" font-family="'Liberation Sans','Noto Sans CJK SC',sans-serif">亿</text>
<text x="1821.0" y="787.5" font-size="19.5" fill="#d8d8d8" font-family="'Liberation Sans','Noto Sans CJK SC',sans-serif">亿</text>
<text x="1.5" y="25.0" font-size="18" fill="#f3ef90" font-family="'Liberation Sans','Noto Sans CJK SC',sans-serif" textLength="35.0">周线</text>
<text x="50.5" y="25.0" font-size="18" fill="#f3ef90" font-family="'Liberation Sans','Noto Sans CJK SC',sans-serif" textLength="72.0">上证指数</text>
<text x="135.5" y="25.0" font-size="19" fill="#f3ef90" textLength="43.5" lengthAdjust="spacingAndGlyphs">BOLL</text>
<path d="M192 15.5H202.5L197.2 21.5Z" fill="#c8c8c8"/>
<text x="226.0" y="25.0" font-size="19" fill="#1bd3ee" textLength="110.0" lengthAdjust="spacingAndGlyphs">MID:3106.92</text>
<text x="361.0" y="25.0" font-size="19" fill="#ff3333" textLength="130.0" lengthAdjust="spacingAndGlyphs">UPPER:3262.54</text>
<text x="515.0" y="25.0" font-size="19" fill="#0bd80b" textLength="136.0" lengthAdjust="spacingAndGlyphs">LOWER:2951.31</text>
<path d="M1806 15.2A7.6 7.6 0 1 0 1807.2 20.5" fill="none" stroke="#c9cacc" stroke-width="1.7"/><path d="M1802.8 9.2L1808.3 9.6L1807.6 15.9Z" fill="#c9cacc"/>
<circle cx="1826" cy="18.5" r="9.2" fill="#c9cacc"/><path d="M1820.5 18.5H1829M1825.8 13.2V23.8" stroke="#25262b" stroke-width="1.8"/>
<text x="4.5" y="623.5" font-size="18" fill="#f3ef90" font-family="'Liberation Sans','Noto Sans CJK SC',sans-serif" textLength="54.0">成交量</text>
<text x="82.0" y="623.5" font-size="18" fill="#0bd80b" font-family="'Liberation Sans','Noto Sans CJK SC',sans-serif" textLength="36.0">总量</text>
<text x="118.5" y="623.5" font-size="18.5" fill="#0bd80b" textLength="41.0" lengthAdjust="spacingAndGlyphs">:8.32</text>
<text x="160.0" y="623.5" font-size="18" fill="#0bd80b" font-family="'Liberation Sans','Noto Sans CJK SC',sans-serif">亿</text>
<text x="202.0" y="623.5" font-size="18.5" fill="#f3ef90" textLength="93.0" lengthAdjust="spacingAndGlyphs">MA5:10.65</text>
<text x="295.5" y="623.5" font-size="18" fill="#f3ef90" font-family="'Liberation Sans','Noto Sans CJK SC',sans-serif">亿</text>
<text x="338.0" y="623.5" font-size="18.5" fill="#ffffff" textLength="104.0" lengthAdjust="spacingAndGlyphs">MA10:10.47</text>
<text x="442.5" y="623.5" font-size="18" fill="#ffffff" font-family="'Liberation Sans','Noto Sans CJK SC',sans-serif">亿</text>
<rect x="-3" y="830" width="92" height="26" fill="#425373"/>
<rect x="-3" y="830" width="92" height="1" fill="#4a6898"/>
<text x="15.8" y="850.3" font-size="18.4" fill="#f4f4f4" font-family="'Liberation Sans','Noto Sans CJK SC',sans-serif" textLength="55.2">成交量</text>
<rect x="95" y="830" width="92" height="26" fill="#323337"/>
<rect x="95" y="830" width="92" height="1" fill="#505155"/>
<text x="141.0" y="850.0" font-size="19" fill="#b4b6ba" text-anchor="middle" textLength="30.0" lengthAdjust="spacingAndGlyphs">MA</text>
<rect x="193" y="830" width="92" height="26" fill="#323337"/>
<rect x="193" y="830" width="92" height="1" fill="#505155"/>
<text x="239.0" y="850.0" font-size="19" fill="#b4b6ba" text-anchor="middle" textLength="56.0" lengthAdjust="spacingAndGlyphs">MACD</text>
<rect x="291" y="830" width="92" height="26" fill="#323337"/>
<rect x="291" y="830" width="92" height="1" fill="#505155"/>
<text x="337.0" y="850.0" font-size="19" fill="#b4b6ba" text-anchor="middle" textLength="33.0" lengthAdjust="spacingAndGlyphs">KDJ</text>
<rect x="389" y="830" width="92" height="26" fill="#425373"/>
<rect x="389" y="830" width="92" height="1" fill="#4a6898"/>
<text x="435.0" y="850.0" font-size="19" fill="#f4f4f4" text-anchor="middle" textLength="43.5" lengthAdjust="spacingAndGlyphs">BOLL</text>
<rect x="487" y="830" width="92" height="26" fill="#323337"/>
<rect x="487" y="830" width="92" height="1" fill="#505155"/>
<text x="505.8" y="850.3" font-size="18.4" fill="#b4b6ba" font-family="'Liberation Sans','Noto Sans CJK SC',sans-serif" textLength="55.2">牛熊线</text>
<rect x="585" y="830" width="92" height="26" fill="#323337"/>
<rect x="585" y="830" width="92" height="1" fill="#505155"/>
<text x="594.6" y="850.3" font-size="18.4" fill="#b4b6ba" font-family="'Liberation Sans','Noto Sans CJK SC',sans-serif" textLength="73.6">神奇九转</text>
<rect x="683" y="830" width="92" height="26" fill="#323337"/>
<rect x="683" y="830" width="92" height="1" fill="#505155"/>
<text x="711.0" y="850.3" font-size="18.4" fill="#b4b6ba" font-family="'Liberation Sans','Noto Sans CJK SC',sans-serif" textLength="36.8">主力</text>
<rect x="781" y="830" width="92" height="26" fill="#323337"/>
<rect x="781" y="830" width="92" height="1" fill="#505155"/>
<text x="827.0" y="850.0" font-size="19" fill="#b4b6ba" text-anchor="middle" textLength="28.0" lengthAdjust="spacingAndGlyphs">RSI</text>
<rect x="879" y="830" width="92" height="26" fill="#323337"/>
<rect x="879" y="830" width="92" height="1" fill="#505155"/>
<text x="925.0" y="850.0" font-size="19" fill="#b4b6ba" text-anchor="middle" textLength="40.0" lengthAdjust="spacingAndGlyphs">BIAS</text>
<rect x="977" y="830" width="92" height="26" fill="#323337"/>
<rect x="977" y="830" width="92" height="1" fill="#505155"/>
<text x="1023.0" y="850.0" font-size="19" fill="#b4b6ba" text-anchor="middle" textLength="65.0" lengthAdjust="spacingAndGlyphs">EXPMA</text>
<rect x="1075" y="830" width="92" height="26" fill="#323337"/>
<rect x="1075" y="830" width="92" height="1" fill="#505155"/>
<text x="1121.0" y="850.0" font-size="19" fill="#b4b6ba" text-anchor="middle" textLength="47.0" lengthAdjust="spacingAndGlyphs">W&amp;R</text>
<rect x="1173" y="830" width="92" height="26" fill="#323337"/>
<rect x="1173" y="830" width="92" height="1" fill="#505155"/>
<text x="1219.0" y="850.0" font-size="19" fill="#b4b6ba" text-anchor="middle" textLength="29.0" lengthAdjust="spacingAndGlyphs">ASI</text>
<rect x="1271" y="830" width="92" height="26" fill="#323337"/>
<rect x="1271" y="830" width="92" height="1" fill="#505155"/>
<text x="1317.0" y="850.0" font-size="19" fill="#b4b6ba" text-anchor="middle" textLength="25.0" lengthAdjust="spacingAndGlyphs">VR</text>
<rect x="1369" y="830" width="92" height="26" fill="#323337"/>
<rect x="1369" y="830" width="92" height="1" fill="#505155"/>
<text x="1415.0" y="850.0" font-size="19" fill="#b4b6ba" text-anchor="middle" textLength="30.0" lengthAdjust="spacingAndGlyphs">CCI</text>
<rect x="1467" y="830" width="92" height="26" fill="#323337"/>
<rect x="1467" y="830" width="92" height="1" fill="#505155"/>
<text x="1513.0" y="850.0" font-size="19" fill="#b4b6ba" text-anchor="middle" textLength="35.0" lengthAdjust="spacingAndGlyphs">ENE</text>
<rect x="1565" y="830" width="92" height="26" fill="#323337"/>
<rect x="1565" y="830" width="92" height="1" fill="#505155"/>
<text x="1611.0" y="850.0" font-size="19" fill="#b4b6ba" text-anchor="middle" textLength="37.5" lengthAdjust="spacingAndGlyphs">DMI</text>
</svg>
</body></html>
